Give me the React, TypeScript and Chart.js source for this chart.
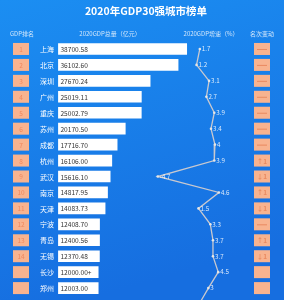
import React, { useEffect, useRef } from "react";
import { Chart, registerables } from "chart.js";

Chart.register(...registerables);

const cities = ["上海", "北京", "深圳", "广州", "重庆", "苏州", "成都", "杭州", "武汉", "南京", "天津", "宁波", "青岛", "无锡", "长沙", "郑州", "佛山"];
const ranks = ["1", "2", "3", "4", "5", "6", "7", "8", "9", "10", "11", "12", "13", "14", "", ""];
const gdp = [38700.58, 36102.6, 27670.24, 25019.11, 25002.79, 20170.5, 17716.7, 16106.0, 15616.1, 14817.95, 14083.73, 12408.7, 12400.56, 12370.48, 12000.0, 12003.0];
const gdpLabels = ["38700.58", "36102.60", "27670.24", "25019.11", "25002.79", "20170.50", "17716.70", "16106.00", "15616.10", "14817.95", "14083.73", "12408.70", "12400.56", "12370.48", "12000.00+", "12003.00"];
const growth = [1.7, 1.2, 3.1, 2.7, 3.9, 3.4, 4, 3.9, -4.7, 4.6, 1.5, 3.3, 3.7, 3.7, 4.5, 3, 1.6];
const growthLabels = ["1.7", "1.2", "3.1", "2.7", "3.9", "3.4", "4", "3.9", "-4.7", "4.6", "1.5", "3.3", "3.7", "3.7", "4.5", "3"];
const rankChange = ["—", "—", "—", "—", "—", "—", "—", "↑1", "↓1", "↑1", "↓1", "—", "↑1", "↓1", "", ""];

const title = "2020年GDP30强城市榜单";
const headers = ["GDP排名", "2020GDP总量（亿元）", "2020GDP增速（%）", "名次变动"];

const FONT = "'Noto Sans CJK SC', 'Noto Sans', sans-serif";
const VISIBLE_ROWS = 16;

const decorPlugin = {
  id: "decor",
  beforeDraw(chart: any) {
    const { ctx, width } = chart;
    const height = 300;
    const g = ctx.createLinearGradient(0, 0, width * 0.3, height);
    g.addColorStop(0, "#1b8ef2");
    g.addColorStop(1, "#166ee0");
    ctx.save();
    ctx.fillStyle = g;
    ctx.fillRect(0, 0, width, chart.height);
    ctx.restore();
  },
  afterDatasetsDraw(chart: any) {
    const { ctx } = chart;
    const y = chart.scales.y;
    const x = chart.scales.x;
    const x2 = chart.scales.x2;
    ctx.save();
    ctx.fillStyle = "#ffffff";
    ctx.font = `bold 10.5px ${FONT}`;
    ctx.textAlign = "center";
    ctx.textBaseline = "middle";
    ctx.fillText(title, 146, 11);
    ctx.font = `6px ${FONT}`;
    ctx.fillStyle = "rgba(255,255,255,0.8)";
    const hx = [22, 110, 211, 262];
    headers.forEach((h, i) => ctx.fillText(h, hx[i], 34));

    for (let i = 0; i < VISIBLE_ROWS; i++) {
      const cy = y.getPixelForValue(i);
      ctx.fillStyle = "#f8b38f";
      ctx.fillRect(13, cy - 6, 16, 12);
      if (ranks[i]) {
        ctx.fillStyle = "#f0875c";
        ctx.font = `6.5px ${FONT}`;
        ctx.textAlign = "center";
        ctx.fillText(ranks[i], 21, cy + 0.5);
      }
      ctx.fillStyle = "#ffffff";
      ctx.font = `7px ${FONT}`;
      ctx.textAlign = "right";
      ctx.fillText(cities[i], 54, cy + 0.5);
      ctx.fillStyle = "#333333";
      ctx.font = `6.6px ${FONT}`;
      ctx.textAlign = "left";
      ctx.fillText(gdpLabels[i], x.getPixelForValue(0) + 2, cy + 0.5);
      ctx.fillStyle = "rgba(255,255,255,0.85)";
      ctx.font = `6.2px ${FONT}`;
      ctx.fillText(growthLabels[i], x2.getPixelForValue(growth[i]) + 2, cy);
      ctx.fillStyle = "#f8b38f";
      ctx.fillRect(254, cy - 6, 16, 12);
      const rc = rankChange[i];
      if (rc === "—") {
        ctx.strokeStyle = "#e98a60";
        ctx.lineWidth = 1;
        ctx.beginPath();
        ctx.moveTo(257, cy + 0.5);
        ctx.lineTo(267, cy + 0.5);
        ctx.stroke();
      } else if (rc) {
        ctx.fillStyle = "#e98a60";
        ctx.font = `bold 6.5px ${FONT}`;
        ctx.textAlign = "center";
        ctx.fillText(rc, 262, cy + 0.5);
      }
    }
    ctx.restore();
  },
};

export default function App() {
  const ref = useRef<HTMLCanvasElement>(null);
  useEffect(() => {
    document.body.style.margin = "0";
    document.body.style.overflow = "hidden";
    const chart = new Chart(ref.current!, {
      type: "bar",
      data: {
        labels: cities,
        datasets: [
          {
            type: "bar",
            data: gdp,
            backgroundColor: "#ffffff",
            barThickness: 11,
            xAxisID: "x",
            yAxisID: "y",
            order: 2,
          } as any,
          {
            type: "line",
            data: growth,
            borderColor: "#c9c9cf",
            borderWidth: 1.3,
            pointRadius: 1.3,
            pointBackgroundColor: "#e6e6e6",
            pointBorderWidth: 0,
            tension: 0,
            clip: false,
            xAxisID: "x2",
            yAxisID: "y",
            order: 1,
          } as any,
        ],
      },
      options: {
        indexAxis: "y",
        responsive: false,
        animation: false,
        layout: { padding: { top: 41, bottom: 1, left: 0, right: 0 } },
        plugins: { legend: { display: false }, tooltip: { enabled: false }, title: { display: false } },
        scales: {
          y: { type: "category", display: false, offset: true, grid: { display: false } },
          x: { type: "linear", display: false, min: -16418, max: 66846 },
          x2: { type: "linear", display: false, min: -28.1, max: 13.9 },
        },
      },
      plugins: [decorPlugin],
    });
    return () => chart.destroy();
  }, []);
  return (
    <div style={{ width: 284, height: 300, overflow: "hidden" }}>
      <canvas ref={ref} width={284} height={316} style={{ display: "block" }} />
    </div>
  );
}
